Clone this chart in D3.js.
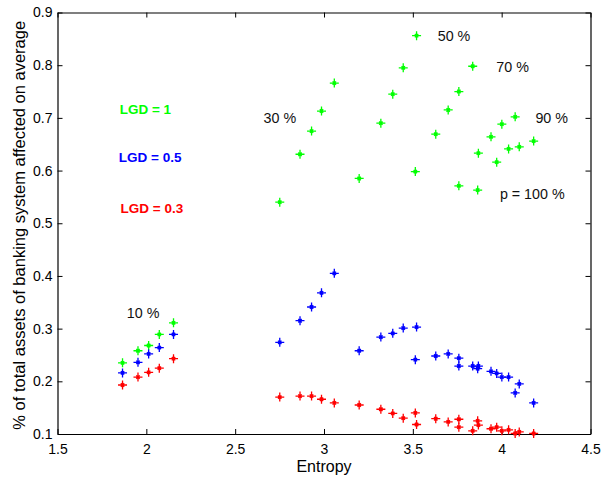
<!DOCTYPE html>
<html>
<head>
<meta charset="utf-8">
<script src="https://cdn.jsdelivr.net/npm/d3@7"></script>
<style>
  html, body { margin: 0; padding: 0; background: #fff; }
  svg { display: block; font-family: "Liberation Sans", Arial, Helvetica, sans-serif; }
</style>
</head>
<body>
<svg id="chart" width="603" height="481"></svg>
<script>
// Groups of link probability p; five networks per group
const groups = ["10 %", "30 %", "50 %", "70 %", "90 %", "p = 100 %"];

// Entropy of each network, per group
const entropy = [
  [1.866, 1.953, 2.013, 2.073, 2.153],
  [2.751, 2.865, 2.930, 2.986, 3.058],
  [3.198, 3.320, 3.387, 3.446, 3.521],
  [3.514, 3.629, 3.699, 3.759, 3.837],
  [3.759, 3.869, 3.940, 4.001, 4.076],
  [3.865, 3.972, 4.039, 4.099, 4.180]
];

// Share of total assets affected, LGD = 1
const lgd1 = [
  [0.235, 0.258, 0.268, 0.289, 0.311],
  [0.540, 0.631, 0.675, 0.713, 0.766],
  [0.585, 0.690, 0.745, 0.795, 0.856],
  [0.598, 0.669, 0.715, 0.750, 0.798],
  [0.571, 0.633, 0.664, 0.688, 0.702],
  [0.563, 0.616, 0.641, 0.645, 0.656]
];

// LGD = 0.5
const lgd05 = [
  [0.216, 0.236, 0.252, 0.264, 0.289],
  [0.274, 0.315, 0.341, 0.368, 0.405],
  [0.258, 0.284, 0.291, 0.301, 0.303],
  [0.241, 0.248, 0.252, 0.244, 0.229],
  [0.229, 0.229, 0.219, 0.208, 0.178],
  [0.224, 0.215, 0.208, 0.195, 0.159]
];

// LGD = 0.3
const lgd03 = [
  [0.193, 0.208, 0.217, 0.225, 0.243],
  [0.170, 0.172, 0.172, 0.166, 0.159],
  [0.155, 0.147, 0.139, 0.130, 0.118],
  [0.140, 0.129, 0.123, 0.128, 0.106],
  [0.113, 0.117, 0.110, 0.106, 0.101],
  [0.125, 0.113, 0.108, 0.104, 0.101]
];

const xTicks = [1.5, 2, 2.5, 3, 3.5, 4, 4.5];
const yTicks = [0.1, 0.2, 0.3, 0.4, 0.5, 0.6, 0.7, 0.8, 0.9];

const seriesNames = ["LGD = 1", "LGD = 0.5", "LGD = 0.3"];
const seriesColors = ["#00ff00", "#0000ff", "#ff0000"];
const seriesData = [lgd1, lgd05, lgd03];

// Annotation anchors (data coordinates) for the p-group labels
const groupLabelPos = [
  [1.89, 0.329], [2.66, 0.7], [3.64, 0.856], [3.97, 0.797], [4.19, 0.699], [3.99, 0.556]
];
// Series label positions (data coordinates)
const seriesLabelPos = [[1.85, 0.717], [1.845, 0.626], [1.855, 0.529]];

const svg = d3.select("#chart");
const margin = { left: 57.5, right: 12.5, top: 12.5, bottom: 47 };
const W = 603, H = 481;

const x = d3.scaleLinear().domain([1.5, 4.5]).range([margin.left, W - margin.right]);
const y = d3.scaleLinear().domain([0.1, 0.9]).range([H - margin.bottom, margin.top]);

const tickFmt = d => String(d);
const tickLen = 5;

// Axes with inward ticks on all four sides
const gB = svg.append("g").attr("transform", `translate(0,${y(0.1)})`)
  .call(d3.axisBottom(x).tickValues(xTicks).tickFormat(tickFmt).tickSizeInner(-tickLen).tickSizeOuter(0).tickPadding(10));
const gT = svg.append("g").attr("transform", `translate(0,${y(0.9)})`)
  .call(d3.axisTop(x).tickValues(xTicks).tickFormat("").tickSizeInner(-tickLen).tickSizeOuter(0));
const gL = svg.append("g").attr("transform", `translate(${x(1.5)},0)`)
  .call(d3.axisLeft(y).tickValues(yTicks).tickFormat(tickFmt).tickSizeInner(-tickLen).tickSizeOuter(0).tickPadding(5));
const gR = svg.append("g").attr("transform", `translate(${x(4.5)},0)`)
  .call(d3.axisRight(y).tickValues(yTicks).tickFormat("").tickSizeInner(-tickLen).tickSizeOuter(0));

[gB, gT, gL, gR].forEach(g => {
  g.select(".domain").attr("stroke", "#000").attr("stroke-width", 1.2);
  g.selectAll(".tick line").attr("stroke", "#000").attr("stroke-width", 1);
  g.selectAll(".tick text").attr("fill", "#000").attr("font-size", 14)
    .attr("font-family", "'Liberation Sans', Arial, sans-serif");
});

// Asterisk marker: plus with short diagonals
const a = 4.5, b = 1.7;
const starPath = `M${-a},0H${a}M0,${-a}V${a}M${-b},${-b}L${b},${b}M${-b},${b}L${b},${-b}`;

seriesData.forEach((series, si) => {
  const pts = [];
  series.forEach((vals, gi) => vals.forEach((v, k) => pts.push({ e: entropy[gi][k], v })));
  svg.append("g").selectAll("path").data(pts).join("path")
    .attr("d", starPath)
    .attr("transform", d => `translate(${x(d.e)},${y(d.v)})`)
    .attr("fill", "none")
    .attr("stroke", seriesColors[si])
    .attr("stroke-width", 1.3);
});

// p-group annotations
svg.append("g").selectAll("text").data(groups).join("text")
  .attr("x", (d, i) => x(groupLabelPos[i][0]))
  .attr("y", (d, i) => y(groupLabelPos[i][1]))
  .attr("dy", "0.35em")
  .attr("font-size", 14.3)
  .attr("fill", "#111")
  .text(d => d);

// Series labels
svg.append("g").selectAll("text").data(seriesNames).join("text")
  .attr("x", (d, i) => x(seriesLabelPos[i][0]))
  .attr("y", (d, i) => y(seriesLabelPos[i][1]))
  .attr("dy", "0.35em")
  .attr("font-size", 13.5)
  .attr("font-weight", "bold")
  .attr("fill", (d, i) => seriesColors[i])
  .text(d => d);

// Axis titles
svg.append("text")
  .attr("x", (x(1.5) + x(4.5)) / 2)
  .attr("y", 466)
  .attr("dy", "0.35em")
  .attr("text-anchor", "middle")
  .attr("font-size", 16)
  .text("Entropy");

svg.append("text")
  .attr("transform", `translate(19,${(y(0.1) + y(0.9)) / 2 + 2}) rotate(-90)`)
  .attr("dy", "0.35em")
  .attr("text-anchor", "middle")
  .attr("font-size", 16.5)
  .text("% of total assets of banking system affected on average");
</script>
</body>
</html>
